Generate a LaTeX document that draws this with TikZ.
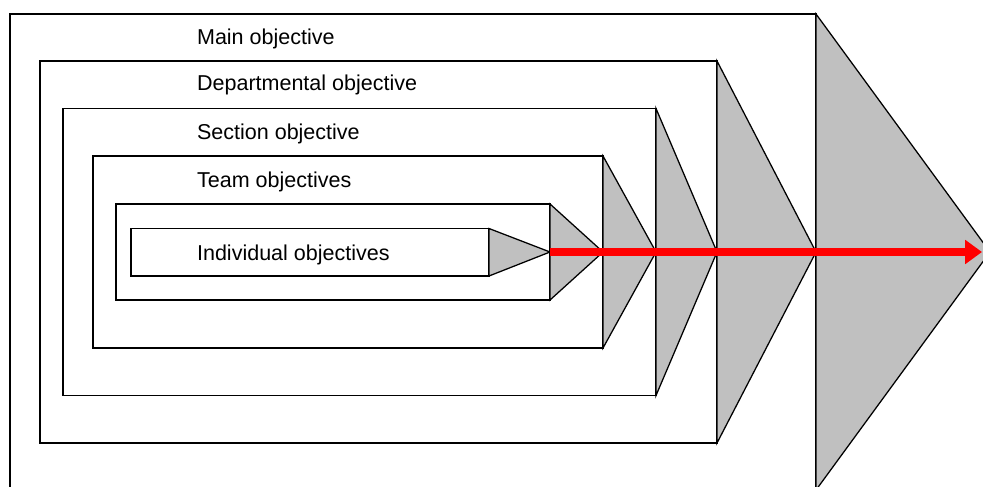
\documentclass[tikz,border=0pt]{standalone}
\usepackage{fontspec}
\setmainfont{Liberation Sans}
\usepackage{xcolor}
\usetikzlibrary{arrows.meta}

\definecolor{wedgegray}{RGB}{192,192,192}

\begin{document}
\begin{tikzpicture}[
  x=0.025cm, y=-0.025cm,
  levelbox/.style={draw=black, line width=0.9pt, fill=white},
  wedge/.style={draw=black, line width=0.9pt, fill=wedgegray, line join=miter},
  goal/.style={anchor=base west, inner sep=0pt, font=\fontsize{15.3}{18}\selectfont},
  flow/.style={draw=red, line width=5pt, -{Triangle[length=0.42cm, width=0.58cm]}}
]
  \path[use as bounding box, clip] (0,0) rectangle (983,486);
  % nested boxes, each with its pointer; the pointer tip sits on the next box's right edge
  \foreach \name/\lx/\ty/\rx/\by/\ax in {
    main/10/14/816/490/990,
    dept/40/61/717/443/816,
    sect/63/108.5/656/395.5/717,
    team/93/156/603/348/656,
    unit/116/204/550/300/603,
    indiv/131/228.5/489/276/550
  } {
    \draw[levelbox] (\lx,\ty) rectangle (\rx,\by);
    \coordinate (tip-\name) at (\ax,252);
    \draw[wedge] (\rx,\ty) -- (tip-\name) -- (\rx,\by) -- cycle;
  }
  % labels
  \node[goal] (lbl-main)  at (196.8,45)  {Main objective};
  \node[goal] (lbl-dept)  at (196.8,91)  {Departmental objective};
  \node[goal] (lbl-sect)  at (196.8,139) {Section objective};
  \node[goal] (lbl-team)  at (196.8,187) {Team objectives};
  \node[goal] (lbl-indiv) at (196.8,260) {Individual objectives};
  % direction of alignment
  \coordinate (arrowend) at (982,252);
  \draw[flow] (tip-indiv) -- (arrowend);
\end{tikzpicture}
\end{document}
